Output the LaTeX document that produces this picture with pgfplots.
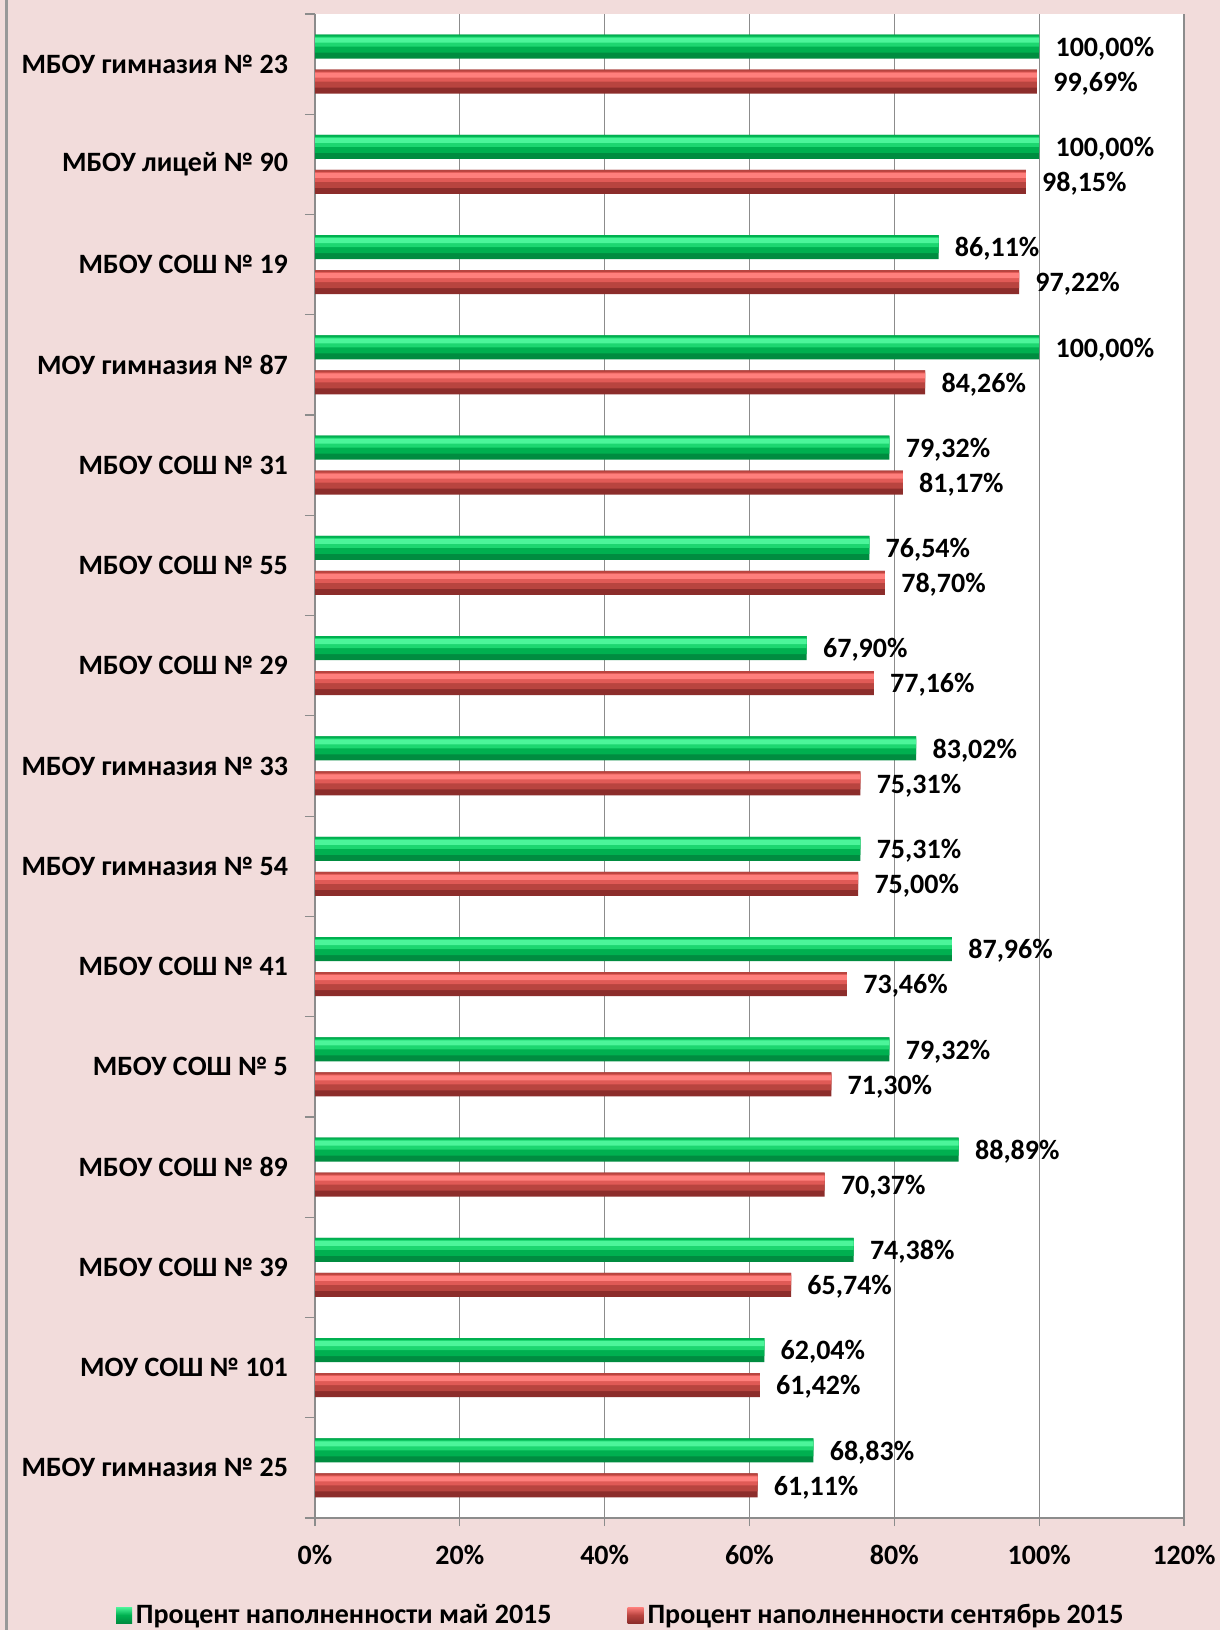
\documentclass[border=0pt]{standalone}
\usepackage{fontspec}
\setmainfont{Carlito}
\usepackage{pgfplots}
\pgfplotsset{compat=1.18}

\definecolor{bgpink}{HTML}{F2DCDB}
\definecolor{gridgray}{HTML}{8C8C8C}
\definecolor{grnlight}{HTML}{4CF59A}
\definecolor{grnml}{HTML}{1DD670}
\definecolor{grn}{HTML}{00B050}
\definecolor{grndark}{HTML}{008C40}
\definecolor{redlight}{HTML}{FF7F7C}
\definecolor{redml}{HTML}{E05A56}
\definecolor{redmid}{HTML}{B8443F}
\definecolor{reddark}{HTML}{8C2D2B}

\newcommand{\lfont}{\fontsize{14bp}{16bp}\selectfont\bfseries}

% values, top category = 15
\pgfplotstableread{
y   may     sep
1   68.83   61.11
2   62.04   61.42
3   74.38   65.74
4   88.89   70.37
5   79.32   71.30
6   87.96   73.46
7   75.31   75.00
8   83.02   75.31
9   67.90   77.16
10  76.54   78.70
11  79.32   81.17
12  100.00  84.26
13  86.11   97.22
14  100.00  98.15
15  100.00  99.69
}\datatable

\begin{document}
\begin{tikzpicture}
\fill[bgpink] (0,0) rectangle (610bp,815bp);
\draw[gray!80, line width=1.5bp] (3bp,0) -- (3bp,815bp);
\begin{axis}[
  at={(157.5bp,56bp)}, anchor=south west,
  scale only axis, width=434.5bp, height=752bp,
  xmin=0, xmax=120, ymin=0.5, ymax=15.5,
  xbar, bar width=12bp,
  /pgf/number format/assume math mode=true,
  axis background/.style={fill=white},
  axis x line*=bottom, axis y line*=left,
  axis line style={draw=gridgray, line width=0.7bp},
  xtick={0,20,...,120},
  xticklabel={\pgfmathprintnumber{\tick}\%},
  xticklabel style={yshift=-6bp},
  xmajorgrids, grid style={gridgray, line width=0.6bp},
  ytick={1,...,15},
  yticklabels={МБОУ гимназия № 25, МОУ СОШ № 101, МБОУ СОШ № 39,
    МБОУ СОШ № 89, МБОУ СОШ № 5, МБОУ СОШ № 41, МБОУ гимназия № 54,
    МБОУ гимназия № 33, МБОУ СОШ № 29, МБОУ СОШ № 55, МБОУ СОШ № 31,
    МОУ гимназия № 87, МБОУ СОШ № 19, МБОУ лицей № 90, МБОУ гимназия № 23},
  yticklabel style={xshift=-6bp},
  minor ytick={0.5,1.5,...,15.5},
  tick align=outside, major tick length=4bp, minor tick length=5bp,
  major y tick style={draw=none},
  minor y tick style={draw=gridgray, line width=0.6bp},
  major x tick style={draw=gridgray, line width=0.6bp},
  tick label style={font=\lfont},
  legend style={at={(0.353,-0.0645)}, anchor=center, legend columns=2,
    draw=none, fill=none, font=\lfont,
    /tikz/every even column/.append style={column sep=36bp}},
  legend image code/.code={\path[#1] (0bp,-4bp) rectangle (8bp,4bp);},
  lbl/.style={point meta=x,
    nodes near coords={\pgfmathprintnumber[fixed,fixed zerofill,precision=2,use comma]{\pgfplotspointmeta}\%},
    nodes near coords align=horizontal,
    every node near coord/.append style={font=\lfont, anchor=west, inner sep=0pt, xshift=8bp, yshift=-1bp, black}},
]
% green bars: body and lighter bands towards the top
\addplot[forget plot, draw=none, fill=grndark, bar shift=8.75bp, lbl] table[x=may, y=y] {\datatable};
\addplot[forget plot, draw=none, fill=grn, bar width=9bp, bar shift=10.25bp] table[x=may, y=y] {\datatable};
\addplot[forget plot, draw=none, fill=grnml, bar width=5bp, bar shift=11.25bp] table[x=may, y=y] {\datatable};
\addplot[forget plot, draw=none, fill=grnlight, bar width=2.5bp, bar shift=12bp] table[x=may, y=y] {\datatable};
% red bars
\addplot[forget plot, draw=none, fill=reddark, bar shift=-8.75bp, lbl] table[x=sep, y=y] {\datatable};
\addplot[forget plot, draw=none, fill=redmid, bar width=9bp, bar shift=-7.25bp] table[x=sep, y=y] {\datatable};
\addplot[forget plot, draw=none, fill=redml, bar width=5bp, bar shift=-6.25bp] table[x=sep, y=y] {\datatable};
\addplot[forget plot, draw=none, fill=redlight, bar width=2.5bp, bar shift=-5.5bp] table[x=sep, y=y] {\datatable};
\addlegendimage{draw=none, top color=grnlight, bottom color=grndark, middle color=grn}
\addlegendimage{draw=none, top color=redlight, bottom color=reddark, middle color=redmid}
\legend{Процент наполненности май 2015, Процент наполненности сентябрь 2015}
\end{axis}
\pgfresetboundingbox
\path (0,0) rectangle (610bp,815bp);
\end{tikzpicture}
\end{document}
